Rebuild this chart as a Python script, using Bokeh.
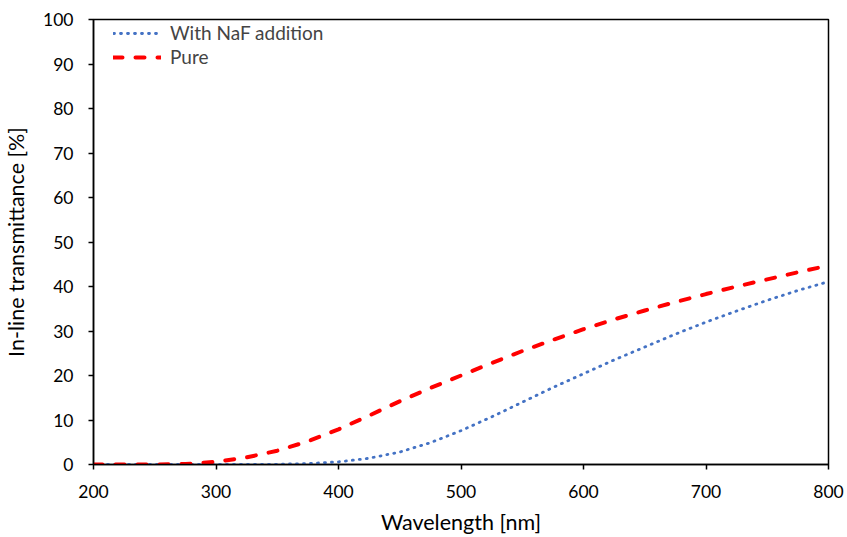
from bokeh.plotting import figure
from bokeh.models import Legend, LegendItem, FixedTicker, Range1d
from bokeh.embed import file_html
from bokeh.resources import INLINE

wavelength = [200, 225, 250, 275, 300, 325, 350, 375, 400, 425, 450, 475, 500,
              525, 550, 575, 600, 625, 650, 675, 700, 725, 750, 775, 800]
naf = [0, 0, 0, 0, 0, 0, 0.05, 0.2, 0.6, 1.4, 2.8, 4.9, 7.6,
       10.7, 14.0, 17.3, 20.4, 23.5, 26.4, 29.3, 32.0, 34.5, 36.9, 39.1, 41.1]
pure = [0, 0, 0, 0.1, 0.6, 1.6, 3.1, 5.2, 7.9, 11.0, 14.2, 17.2, 20.0,
        22.8, 25.5, 28.0, 30.4, 32.6, 34.6, 36.5, 38.3, 40.0, 41.6, 43.2, 44.7]
x_ticks = [200, 300, 400, 500, 600, 700, 800]
y_ticks = [0, 10, 20, 30, 40, 50, 60, 70, 80, 90, 100]
series_names = ["With NaF addition", "Pure"]

FONT = "Lato"

p = figure(width=847, height=537, output_backend="svg", toolbar_location=None,
           x_range=Range1d(200, 800), y_range=Range1d(0, 100),
           min_border_left=92, min_border_right=19, min_border_top=19, min_border_bottom=72)

r1 = p.line(wavelength, naf, line_color="#4472C4", line_width=2.8,
            line_dash="1 6", line_cap="round")
r2 = p.line(wavelength, pure, line_color="#FF0000", line_width=4,
            line_dash="9 13", line_cap="round")

p.xgrid.visible = False
p.ygrid.visible = False
p.outline_line_color = "black"
p.outline_line_width = 1.5

for ax in (p.xaxis[0], p.yaxis[0]):
    ax.axis_line_color = "black"
    ax.axis_line_width = 1.5
    ax.major_tick_line_color = "black"
    ax.major_tick_line_width = 1.5
    ax.major_tick_out = 5
    ax.major_tick_in = 0
    ax.minor_tick_line_color = None
    ax.major_label_text_font = FONT
    ax.major_label_text_font_size = "17.5px"
    ax.major_label_text_color = "black"
    ax.axis_label_text_font = FONT
    ax.axis_label_text_font_size = "21.5px"
    ax.axis_label_text_font_style = "normal"
    ax.axis_label_text_color = "black"

p.xaxis.ticker = FixedTicker(ticks=x_ticks)
p.yaxis.ticker = FixedTicker(ticks=y_ticks)
p.xaxis.axis_label = "Wavelength [nm]"
p.yaxis.axis_label = "In-line transmittance [%]"
p.xaxis.major_label_standoff = 15
p.xaxis.axis_label_standoff = 8
p.yaxis.major_label_standoff = 15
p.yaxis.axis_label_standoff = 11

legend = Legend(items=[LegendItem(label=series_names[0], renderers=[r1]),
                       LegendItem(label=series_names[1], renderers=[r2])],
                location=(20, 396), margin=0, padding=0, spacing=1,
                glyph_width=48, glyph_height=22, label_height=22, label_standoff=9,
                label_text_font=FONT, label_text_font_size="19px",
                border_line_color=None, background_fill_alpha=0)
p.add_layout(legend)

open("out.html", "w").write(file_html(p, INLINE))
